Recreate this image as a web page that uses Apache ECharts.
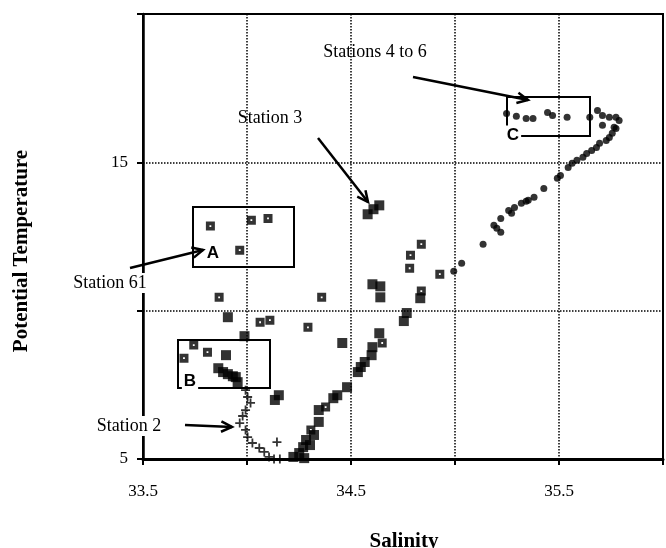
<!DOCTYPE html>
<html><head><meta charset="utf-8">
<script src="https://cdn.jsdelivr.net/npm/echarts@6.0.0/dist/echarts.min.js"></script>
<style>html,body{margin:0;padding:0;background:#fff}#c{width:666px;height:548px}</style>
</head><body><div id="c"></div>
<script>
// Tick labels shown on the axes
const xTickLabels = ['33.5', '34.5', '35.5'];
const yTickLabels = ['5', '15'];

// [salinity, potential temperature]
const boxedSquares = [
  [33.824,12.85],[34.021,13.05],[34.101,13.11],[33.965,12.04],
  [33.866,10.45],[34.359,10.45],[34.063,9.61],[34.110,9.68],[34.293,9.44],
  [33.744,8.84],[33.810,8.60],[33.697,8.40],
  [34.838,12.24],[34.786,11.87],[34.782,11.43],[34.927,11.23],[34.838,10.66],
  [34.650,8.91],[34.378,6.75],[34.307,5.98]
];
const filledSquares = [
  [34.580,13.25],[34.608,13.42],[34.636,13.55],
  [34.603,10.89],[34.641,10.82],[34.641,10.45],[34.833,10.42],[34.768,9.92],[34.754,9.65],
  [33.908,9.78],[33.988,9.14],[33.899,8.50],
  [33.862,8.06],[33.885,7.93],[33.908,7.86],[33.932,7.79],[33.946,7.76],[33.955,7.59],
  [34.153,7.15],[34.134,6.99],[34.458,8.91],
  [34.636,9.24],[34.603,8.77],[34.599,8.50],[34.566,8.27],[34.547,8.10],[34.533,7.93],
  [34.481,7.42],[34.434,7.15],[34.415,7.05],[34.345,6.65],[34.345,6.25],[34.322,5.81],
  [34.284,5.64],[34.270,5.40],[34.303,5.47],[34.251,5.20],[34.275,5.03],[34.223,5.07]
];
const roundDots = [
  [34.994,11.33],[35.032,11.60],[35.135,12.24],[35.187,12.88],[35.201,12.78],[35.220,12.64],
  [35.220,13.11],[35.258,13.38],[35.272,13.28],[35.286,13.48],[35.319,13.62],[35.342,13.69],
  [35.352,13.72],[35.380,13.82],[35.427,14.12],[35.492,14.46],[35.507,14.56],[35.544,14.83],
  [35.563,14.97],[35.586,15.07],[35.615,15.17],[35.633,15.30],[35.657,15.40],[35.680,15.50],
  [35.695,15.64],[35.727,15.74],[35.742,15.84],[35.756,15.98],[35.774,16.14],[35.709,16.25],
  [35.765,16.18],[35.789,16.41],[35.774,16.52],[35.742,16.52],[35.709,16.58],[35.685,16.75],
  [35.648,16.52],
  [35.248,16.65],[35.295,16.55],[35.342,16.48],[35.375,16.48],[35.445,16.68],[35.469,16.58],[35.539,16.52]
];
const crosses = [
  [33.993,7.32],[34.003,7.09],[34.017,6.89],[33.993,6.65],[33.979,6.45],[33.965,6.21],
  [33.993,5.98],[34.003,5.74],[34.026,5.54],[34.059,5.37],[34.083,5.24],[34.106,5.07],
  [34.130,5.00],[34.158,5.00],[34.144,5.57]
];

const serif = '"Liberation Serif","Times New Roman",serif';
const sans = '"Liberation Sans",Arial,sans-serif';

function arrow(x1, y1, x2, y2) {
  const a = Math.atan2(y2 - y1, x2 - x1), L = 12, w = 0.45;
  const p1 = [x2 - L * Math.cos(a - w), y2 - L * Math.sin(a - w)];
  const p2 = [x2 - L * Math.cos(a + w), y2 - L * Math.sin(a + w)];
  return [
    { type: 'line', shape: { x1, y1, x2, y2 }, style: { stroke: '#000', lineWidth: 2.5 }, z: 100 },
    { type: 'polyline', shape: { points: [p1, [x2, y2], p2] }, style: { stroke: '#000', lineWidth: 2.5, fill: null }, z: 100 }
  ];
}
function txt(t, x, y, font, bg) {
  return { type: 'text', x, y, z: 101, style: {
    text: t, font, fill: '#000', align: 'center', verticalAlign: 'middle',
    textAlign: 'center', textVerticalAlign: 'middle',
    backgroundColor: bg ? '#fff' : null, padding: bg ? [1, 2] : 0 } };
}
function box(x, y, w, h) {
  return { type: 'rect', shape: { x, y, width: w, height: h }, z: 99,
    style: { stroke: '#000', lineWidth: 2, fill: null } };
}

const chart = echarts.init(document.getElementById('c'));
chart.setOption({
  animation: false,
  backgroundColor: '#fff',
  grid: { left: 143, top: 14, right: -9, bottom: 89, show: true, borderColor: '#000', borderWidth: 2 },
  xAxis: {
    type: 'value', min: 33.5, max: 36, interval: 0.5,
    axisLine: { lineStyle: { color: '#000', width: 3 } },
    axisTick: { length: 6, lineStyle: { color: '#000', width: 2 } },
    axisLabel: { margin: 24, color: '#000', fontFamily: serif, fontSize: 17,
      formatter: v => { const s = v.toFixed(1); return xTickLabels.includes(s) ? s : ''; } },
    splitLine: { show: true, lineStyle: { color: '#000', type: 'dotted', width: 1.5 } }
  },
  yAxis: {
    type: 'value', min: 5, max: 20, interval: 5,
    axisLine: { lineStyle: { color: '#000', width: 2.5 } },
    axisTick: { length: 6, lineStyle: { color: '#000', width: 2 } },
    axisLabel: { margin: 15, color: '#000', fontFamily: serif, fontSize: 17,
      formatter: v => { const s = String(v); return yTickLabels.includes(s) ? s : ''; } },
    splitLine: { show: true, lineStyle: { color: '#000', type: 'dotted', width: 1.5 } }
  },
  series: [
    { type: 'scatter', data: filledSquares, symbol: 'rect', symbolSize: 10,
      itemStyle: { color: '#000' } },
    { type: 'scatter', data: boxedSquares, symbol: 'path://M0,0H10V10H0Z M4,4V6H6V4Z', symbolSize: 9,
      itemStyle: { color: '#000' } },
    { type: 'scatter', data: roundDots, symbol: 'circle', symbolSize: 7,
      itemStyle: { color: '#000' } },
    { type: 'scatter', data: crosses, symbol: 'path://M4,0H6V4H10V6H6V10H4V6H0V4H4Z', symbolSize: 9,
      itemStyle: { color: '#000' } }
  ],
  graphic: [
    box(193, 207, 101, 60),
    box(178, 340, 92, 48),
    box(507, 97, 83, 39),
    txt('A', 213, 253, 'bold 17px ' + sans, false),
    txt('B', 190, 381, 'bold 17px ' + sans, true),
    txt('C', 513, 135, 'bold 17px ' + sans, true),
    ...arrow(413, 77, 528, 100),
    ...arrow(318, 138, 368, 202),
    ...arrow(130, 268, 203, 250),
    ...arrow(185, 425, 232, 427),
    txt('Stations 4 to 6', 375, 52, '18px ' + serif, false),
    txt('Station 3', 270, 118, '18px ' + serif, false),
    txt('Station 61', 110, 283, '18px ' + serif, true),
    txt('Station 2', 129, 426, '18px ' + serif, true),
    txt('Salinity', 404, 542, 'bold 21px ' + serif, false),
    { type: 'text', x: 22, y: 251, rotation: Math.PI / 2, z: 101, style: {
      text: 'Potential Temperature', font: 'bold 21px ' + serif, fill: '#000',
      align: 'center', verticalAlign: 'middle', textAlign: 'center', textVerticalAlign: 'middle' } }
  ]
});
</script>
</body></html>
